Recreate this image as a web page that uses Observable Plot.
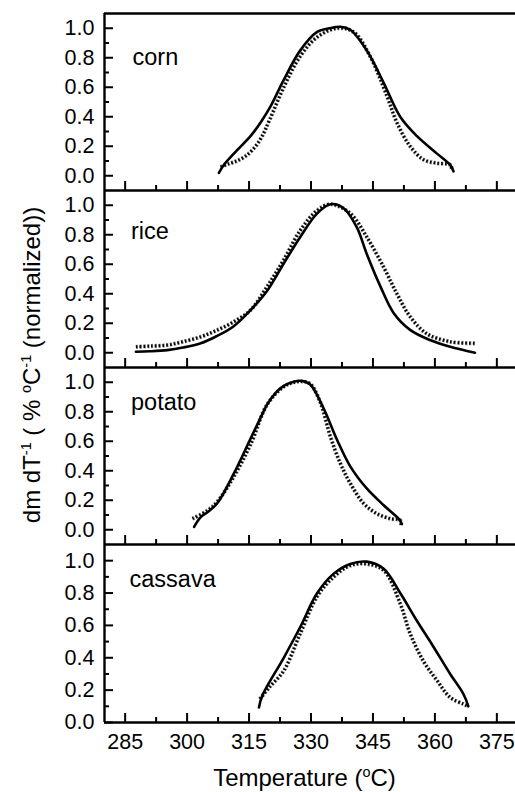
<!DOCTYPE html>
<html>
<head>
<meta charset="utf-8">
<script src="https://cdn.jsdelivr.net/npm/d3@7"></script>
<script src="https://cdn.jsdelivr.net/npm/@observablehq/plot@0.6"></script>
<style>
  html, body { margin: 0; padding: 0; background: #fff; overflow: hidden; }
  #chart { position: relative; width: 515px; height: 792px; overflow: hidden; background: #fff;
           font-family: "Liberation Sans", Arial, sans-serif; color: #000; }
  .panel { position: absolute; left: 0; }
  .title { position: absolute; font-size: 24px; line-height: 24px; white-space: nowrap; color: #000; }
  .title sup { font-size: 0.6em; line-height: 0; vertical-align: 0.6em; }
  #xtitle { left: 304.5px; top: 766px; transform: translateX(-50%); }
  #ytitle { left: 32px; top: 365px; transform: translate(-50%, -50%) rotate(-90deg); }
</style>
</head>
<body>
<div id="chart">
  <div id="ytitle" class="title">dm dT<sup>-1</sup> ( % <sup>o</sup>C<sup>-1</sup> (normalized))</div>
  <div id="xtitle" class="title">Temperature (<sup>o</sup>C)</div>
</div>
<script>
// ---------- data ----------
const samples = ["corn", "rice", "potato", "cassava"];
const xDomain = [280, 380];
const xMajorTicks = [285, 300, 315, 330, 345, 360, 375];
const xMinorTicks = [292.5, 307.5, 322.5, 337.5, 352.5, 367.5];
const yMajorTicks = [0, 0.2, 0.4, 0.6, 0.8, 1.0];
const yMinorTicks = [0.1, 0.3, 0.5, 0.7, 0.9];
const yDomainStacked = [-0.1, 1.1];
const yDomainBottom = [0, 1.1];

// corn
const cornSolidT = [307.7, 308.8, 312.0, 315.4, 318.0, 320.2, 323.4, 327.4, 331.5, 334.5, 337.1, 339.5, 343.5, 347.6, 351.6, 355.6, 360.5, 363.7, 364.5];
const cornSolidV = [0.02, 0.07, 0.17, 0.27, 0.37, 0.47, 0.65, 0.85, 0.975, 1.0, 1.01, 0.99, 0.85, 0.63, 0.40, 0.27, 0.15, 0.074, 0.03];
const cornDotT = [308.1, 310.0, 312.0, 314.0, 316.0, 318.0, 320.0, 323.4, 327.4, 331.5, 336.3, 340.3, 344.3, 348.4, 350.8, 354.0, 357.2, 360.5, 363.7, 364.1];
const cornDotV = [0.06, 0.08, 0.10, 0.13, 0.18, 0.26, 0.38, 0.60, 0.81, 0.94, 1.0, 0.975, 0.81, 0.54, 0.36, 0.20, 0.11, 0.085, 0.074, 0.04];

// rice
const riceSolidT = [287.6, 291.0, 295.2, 299.0, 303.3, 307.0, 311.3, 315.4, 319.4, 323.4, 327.4, 331.5, 334.7, 337.9, 341.1, 343.5, 346.8, 350.0, 354.0, 358.8, 363.7, 369.7];
const riceSolidV = [0.007, 0.01, 0.018, 0.035, 0.064, 0.11, 0.18, 0.29, 0.42, 0.605, 0.785, 0.945, 1.007, 0.98, 0.85, 0.67, 0.45, 0.27, 0.155, 0.086, 0.04, 0.0];
const riceDotT = [287.6, 291.0, 295.2, 299.0, 303.3, 307.0, 311.3, 315.4, 319.4, 323.4, 327.4, 331.5, 334.7, 339.5, 343.5, 347.6, 350.8, 354.0, 358.0, 363.7, 369.7];
const riceDotV = [0.04, 0.045, 0.052, 0.075, 0.108, 0.15, 0.21, 0.29, 0.45, 0.63, 0.83, 0.965, 1.007, 0.945, 0.785, 0.58, 0.40, 0.245, 0.13, 0.075, 0.064];

// potato
const potatoSolidT = [301.7, 303.3, 305.0, 307.3, 311.3, 315.4, 317.8, 319.4, 321.5, 323.4, 326.0, 327.6, 329.8, 333.1, 336.3, 339.5, 343.5, 347.6, 351.2, 352.0];
const potatoSolidV = [0.02, 0.086, 0.12, 0.18, 0.38, 0.62, 0.76, 0.85, 0.93, 0.975, 1.005, 1.01, 0.985, 0.82, 0.61, 0.43, 0.28, 0.166, 0.075, 0.04];
const potatoDotT = [301.3, 304.9, 307.3, 311.3, 315.4, 319.4, 323.4, 326.0, 327.8, 329.8, 332.3, 334.7, 337.1, 339.5, 342.7, 345.9, 349.2, 351.6, 351.8];
const potatoDotV = [0.075, 0.13, 0.19, 0.36, 0.58, 0.85, 0.97, 1.0, 1.005, 0.99, 0.86, 0.63, 0.45, 0.315, 0.18, 0.11, 0.075, 0.064, 0.03];

// cassava
const cassavaSolidT = [317.4, 318.2, 323.4, 327.4, 331.5, 335.5, 339.5, 343.5, 347.6, 351.6, 355.6, 359.6, 363.7, 366.9, 368.1];
const cassavaSolidV = [0.093, 0.166, 0.40, 0.59, 0.80, 0.92, 0.98, 0.994, 0.95, 0.80, 0.63, 0.47, 0.30, 0.176, 0.10];
const cassavaDotT = [317.6, 320.0, 323.4, 327.4, 331.5, 335.5, 339.5, 343.5, 347.6, 351.6, 354.0, 357.2, 360.5, 363.7, 366.9, 368.1];
const cassavaDotV = [0.145, 0.22, 0.32, 0.55, 0.78, 0.90, 0.97, 0.98, 0.94, 0.735, 0.55, 0.38, 0.26, 0.155, 0.114, 0.10];

// ---------- build ----------
const rows = (T, V) => T.map((t, i) => ({t, v: V[i]}));
const series = [
  {solid: rows(cornSolidT, cornSolidV), dot: rows(cornDotT, cornDotV)},
  {solid: rows(riceSolidT, riceSolidV), dot: rows(riceDotT, riceDotV)},
  {solid: rows(potatoSolidT, potatoSolidV), dot: rows(potatoDotT, potatoDotV)},
  {solid: rows(cassavaSolidT, cassavaSolidV), dot: rows(cassavaDotT, cassavaDotV)}
];

const layout = [
  {top: 0,   marginTop: 13, inner: 177, marginBottom: 0,  yDomain: yDomainStacked, labelDx: 28,   labelDy: 44, xLabels: false, topBorder: true},
  {top: 190, marginTop: 0,  inner: 177, marginBottom: 0,  yDomain: yDomainStacked, labelDx: 26.5, labelDy: 41, xLabels: false, topBorder: false},
  {top: 367, marginTop: 0,  inner: 177, marginBottom: 0,  yDomain: yDomainStacked, labelDx: 26.5, labelDy: 34.5, xLabels: false, topBorder: false},
  {top: 544, marginTop: 0,  inner: 178, marginBottom: 70, yDomain: yDomainBottom,  labelDx: 25,   labelDy: 35, xLabels: true,  topBorder: false}
];

const chart = document.getElementById("chart");
const font = '"Liberation Sans", Arial, sans-serif';

samples.forEach((name, k) => {
  const L = layout[k];
  const S = series[k];
  const y0 = L.yDomain[0], y1 = L.yDomain[1];
  const marks = [
    Plot.line(S.dot, {x: "t", y: "v", stroke: "#999", strokeWidth: 4.2, curve: "catmull-rom", strokeLinecap: "butt", strokeDasharray: "2.2,1.6"}),
    Plot.line(S.dot, {x: "t", y: "v", stroke: "#000", strokeWidth: 3, curve: "catmull-rom", strokeLinecap: "butt", strokeDasharray: "1.6,2.2"}),
    Plot.line(S.solid, {x: "t", y: "v", stroke: "#000", strokeWidth: 2.6, curve: "catmull-rom"}),
    Plot.ruleY([y0], {stroke: "#000", strokeWidth: 2.4}),
    Plot.ruleX([xDomain[0]], {stroke: "#000", strokeWidth: 2.4}),
    Plot.ruleX([xDomain[1]], {stroke: "#000", strokeWidth: 2.4}),
    Plot.ruleY(yMajorTicks, {y: d => d, x1: () => xDomain[0], x2: () => xDomain[0], insetRight: -9, stroke: "#000", strokeWidth: 2}),
    Plot.ruleY(yMinorTicks, {y: d => d, x1: () => xDomain[0], x2: () => xDomain[0], insetRight: -5, stroke: "#000", strokeWidth: 2}),
    Plot.ruleX(xMajorTicks, {x: d => d, y1: () => y0, y2: () => y0, insetBottom: 9, stroke: "#000", strokeWidth: 2}),
    Plot.ruleX(xMinorTicks, {x: d => d, y1: () => y0, y2: () => y0, insetBottom: 5, stroke: "#000", strokeWidth: 2}),
    Plot.text([name], {text: d => d, frameAnchor: "top-left", textAnchor: "start", lineAnchor: "middle",
                       dx: L.labelDx, dy: L.labelDy, fontSize: 23.5, fill: "#000"})
  ];
  if (L.topBorder) marks.push(Plot.ruleY([y1], {stroke: "#000", strokeWidth: 2.4}));

  const svg = Plot.plot({
    width: 517,
    height: L.marginTop + L.inner + L.marginBottom,
    marginLeft: 104, marginRight: 0,
    marginTop: L.marginTop, marginBottom: L.marginBottom,
    style: {fontFamily: font, fontSize: "21.5px", background: "transparent", overflow: "visible", maxWidth: "none", color: "#000"},
    x: {domain: xDomain, ticks: xMajorTicks, tickSize: 0, tickPadding: 11, label: null, axis: L.xLabels ? "bottom" : null},
    y: {domain: L.yDomain, ticks: yMajorTicks, tickSize: 0, tickPadding: 10, tickFormat: d3.format(".1f"), label: null},
    marks
  });
  const wrap = document.createElement("div");
  wrap.className = "panel";
  wrap.style.top = L.top + "px";
  wrap.appendChild(svg);
  chart.appendChild(wrap);
});
// keep titles on top
chart.appendChild(document.getElementById("ytitle"));
chart.appendChild(document.getElementById("xtitle"));
</script>
</body>
</html>
